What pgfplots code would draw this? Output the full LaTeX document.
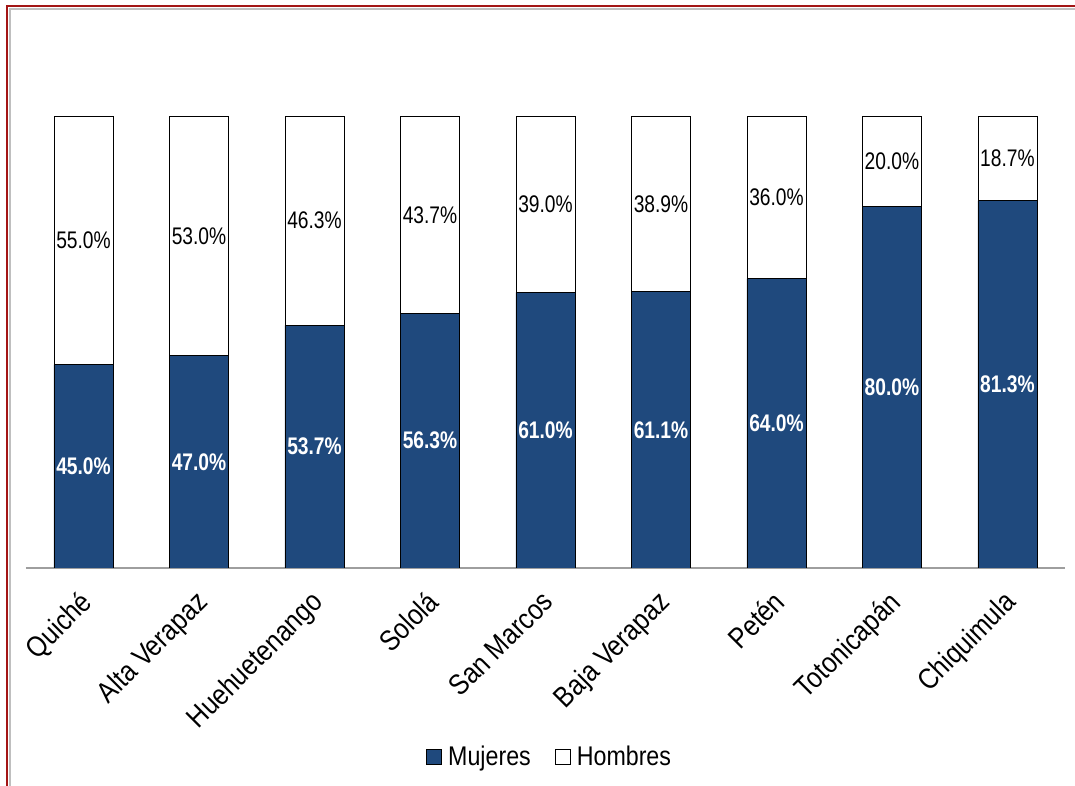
\documentclass[border=0pt]{standalone}
\usepackage{fontspec}
\setmainfont{Liberation Sans}[FakeStretch=0.8]
\newfontfamily\ancho{Liberation Sans}[FakeStretch=0.86]
\usepackage{pgfplots}
\usepackage{pgfplotstable}
\pgfplotsset{compat=1.18}
\definecolor{mujer}{HTML}{1F497D}
\definecolor{marco}{HTML}{A31515}

% porcentaje por departamento
\pgfplotstableread{
x mujeres hombres
0 45.0 55.0
1 47.0 53.0
2 53.7 46.3
3 56.3 43.7
4 61.0 39.0
5 61.1 38.9
6 64.0 36.0
7 80.0 20.0
8 81.3 18.7
}\datos

% posicion de las etiquetas (centro de cada segmento)
\pgfplotstableread{
x ym lm yh lh
0 22.5  45.0\% 72.5  55.0\%
1 23.5  47.0\% 73.5  53.0\%
2 26.85 53.7\% 76.85 46.3\%
3 28.15 56.3\% 78.15 43.7\%
4 30.5  61.0\% 80.5  39.0\%
5 30.55 61.1\% 80.55 38.9\%
6 32.0  64.0\% 82.0  36.0\%
7 40.0  80.0\% 90.0  20.0\%
8 40.65 81.3\% 90.65 18.7\%
}\etiquetas

\pgfplotsset{
  cuadro/.style={legend image code/.code={\draw[##1, line width=1pt] (0pt,-7.5pt) rectangle (15pt,7.5pt);}},
  marco comun/.style={
    at={(25.75pt,218pt)}, anchor=south west,
    scale only axis, width=1039.5pt, height=452pt,
    xmin=-0.5, xmax=8.5, ymin=0, ymax=100,
  },
}

\begin{document}
\begin{tikzpicture}
\useasboundingbox (0pt,0pt) rectangle (1075pt,786pt);
\draw[marco, line width=2pt] (7pt,0pt) -- (7pt,780pt) -- (1075pt,780pt);
\draw[black!25, line width=2pt] (10pt,0pt) -- (10pt,777pt) -- (1075pt,777pt);

\begin{axis}[
  marco comun,
  ybar stacked, bar width=59pt,
  axis x line*=bottom, axis y line=none,
  x axis line style={draw=black!38, line width=1.3pt},
  xtick={0,...,8},
  xticklabels={Quiché, Alta Verapaz, Huehuetenango, Sololá, San Marcos, Baja Verapaz, Petén, Totonicapán, Chiquimula},
  major tick length=0pt,
  xticklabel style={xshift=-5pt, yshift=-21pt, anchor=north east, rotate=45, inner sep=0pt,
    font=\ancho\fontsize{29}{32}\selectfont},
  legend style={at={(0.504,-0.418)}, anchor=center, draw=none, legend columns=2,
    font=\ancho\fontsize{27}{30}\selectfont,
    /tikz/every odd column/.append style={column sep=4pt},
    /tikz/every even column/.append style={column sep=22pt}},
]
\addplot[fill=mujer, draw=black, line width=0.9pt, cuadro] table[x=x, y=mujeres]{\datos};
\addplot[fill=white, draw=black, line width=0.9pt, cuadro] table[x=x, y=hombres]{\datos};
\legend{Mujeres, Hombres}
\end{axis}

\begin{axis}[marco comun, hide axis, clip=false]
\addplot[draw=none, nodes near coords, point meta=explicit symbolic,
  every node near coord/.append style={anchor=center, text=white,
    font=\fontsize{24}{26}\selectfont\bfseries}]
  table[x=x, y=ym, meta=lm]{\etiquetas};
\addplot[draw=none, nodes near coords, point meta=explicit symbolic,
  every node near coord/.append style={anchor=center, text=black,
    font=\fontsize{24}{26}\selectfont}]
  table[x=x, y=yh, meta=lh]{\etiquetas};
\end{axis}
\end{tikzpicture}
\end{document}
